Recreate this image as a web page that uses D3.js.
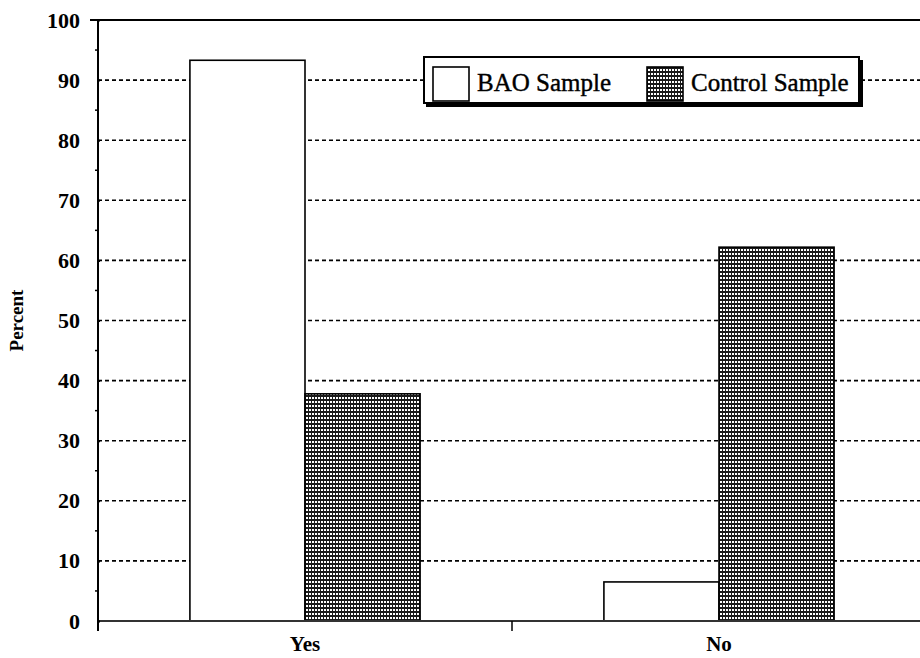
<!DOCTYPE html>
<html><head><meta charset="utf-8">
<script src="https://cdn.jsdelivr.net/npm/d3@7/dist/d3.min.js"></script>
<style>body{margin:0;background:#fff}svg{display:block}
svg text{font-family:"Liberation Serif";}</style>
</head><body>
<svg id="c" width="920" height="658"></svg>
<script>
const categories = ["Yes", "No"];
const seriesNames = ["BAO Sample", "Control Sample"];
const baoValues = [93.3, 6.5];
const controlValues = [37.8, 62.2];
const yTicks = [0,10,20,30,40,50,60,70,80,90,100];
const yMinorTicks = [5,15,25,35,45,55,65,75,85,95];

(function(){
const svg = d3.select("#c");
const pLeft = 98, pRight = 926, pTop = 20, pBottom = 621;
const font = '"Liberation Serif"';

const defs = svg.append("defs");
const pat = defs.append("pattern").attr("id","dots").attr("patternUnits","userSpaceOnUse")
  .attr("width",3).attr("height",4);
pat.append("rect").attr("width",3).attr("height",4).attr("fill","#1a1a1a");
pat.append("rect").attr("x",0).attr("y",1).attr("width",2).attr("height",2).attr("fill","#fff");

const x = d3.scaleBand().domain(categories).range([pLeft,pRight]).paddingInner(0.444).paddingOuter(0.222);
const xs = d3.scaleBand().domain(seriesNames).range([0,x.bandwidth()]);
const y = d3.scaleLinear().domain([0,100]).range([pBottom,pTop]);

// gridlines
svg.append("g").selectAll("line").data(yTicks.filter(d=>d>0&&d<100)).join("line")
  .attr("x1",pLeft).attr("x2",920).attr("y1",d=>y(d)).attr("y2",d=>y(d))
  .attr("stroke","#000").attr("stroke-width",1.6).attr("stroke-dasharray","4,3");
// top frame
svg.append("line").attr("x1",90).attr("x2",920).attr("y1",y(100)).attr("y2",y(100))
  .attr("stroke","#000").attr("stroke-width",2);

// bars
const data = [];
categories.forEach((c,i)=>{
  data.push({c, s:seriesNames[0], v:baoValues[i]});
  data.push({c, s:seriesNames[1], v:controlValues[i]});
});
svg.append("g").selectAll("rect").data(data).join("rect")
  .attr("x",d=>x(d.c)+xs(d.s)).attr("width",xs.bandwidth())
  .attr("y",d=>y(d.v)).attr("height",d=>y(0)-y(d.v))
  .attr("fill",d=>d.s===seriesNames[0]?"#fff":"url(#dots)")
  .attr("stroke","#000").attr("stroke-width",1.6);

// x axis
svg.append("line").attr("x1",pLeft).attr("x2",920).attr("y1",pBottom).attr("y2",pBottom)
  .attr("stroke","#333").attr("stroke-width",2);
const mid = (x("Yes")+x.bandwidth()+x("No"))/2;
svg.append("line").attr("x1",mid).attr("x2",mid)
  .attr("y1",pBottom).attr("y2",pBottom+10).attr("stroke","#000").attr("stroke-width",1.5);
svg.append("g").selectAll("text").data(categories).join("text")
  .attr("x",d=>x(d)+x.bandwidth()/2).attr("y",651).attr("text-anchor","middle")
  .style("font-family",font).style("font-weight","bold").style("font-size","21px").text(d=>d);

// y axis
const yAxis = d3.axisLeft(y).tickValues(yTicks).tickSize(8).tickPadding(10).tickFormat(d3.format("d"));
const ga = svg.append("g").attr("transform",`translate(${pLeft},0)`).call(yAxis);
ga.attr("font-family",null);
ga.select(".domain").remove();
ga.selectAll(".tick line").attr("stroke","#000").attr("stroke-width",2).attr("x2",2);
ga.selectAll(".tick text").style("font-family",font).style("font-weight","bold").style("font-size","22px").attr("fill","#000");
svg.append("line").attr("x1",pLeft).attr("x2",pLeft).attr("y1",pTop).attr("y2",pBottom+10)
  .attr("stroke","#000").attr("stroke-width",2);
svg.append("g").selectAll("line").data(yMinorTicks).join("line")
  .attr("x1",pLeft-3).attr("x2",pLeft+1).attr("y1",d=>y(d)).attr("y2",d=>y(d))
  .attr("stroke","#000").attr("stroke-width",1.5);

svg.append("text").attr("transform",`translate(23,${(pTop+pBottom)/2}) rotate(-90)`)
  .attr("text-anchor","middle").style("font-family",font).style("font-weight","bold").style("font-size","19px").text("Percent");

// legend
const lg = svg.append("g");
lg.append("rect").attr("x",426).attr("y",60).attr("width",437).attr("height",47).attr("fill","#000");
lg.append("rect").attr("x",424).attr("y",57).attr("width",435).attr("height",46).attr("fill","#fff")
  .attr("stroke","#000").attr("stroke-width",2);
const lx = [433, 647];
lg.selectAll("rect.sw").data(seriesNames).join("rect").attr("class","sw")
  .attr("x",(d,i)=>lx[i]).attr("y",67).attr("width",36).attr("height",34)
  .attr("fill",(d,i)=>i===0?"#fff":"url(#dots)").attr("stroke","#000").attr("stroke-width",1.6);
lg.selectAll("text").data(seriesNames).join("text")
  .attr("x",(d,i)=>lx[i]+44).attr("y",91).style("font-family",font).style("font-size","25px")
  .attr("stroke","#000").attr("stroke-width",0.4).text(d=>d);
})();
</script>
</body></html>
